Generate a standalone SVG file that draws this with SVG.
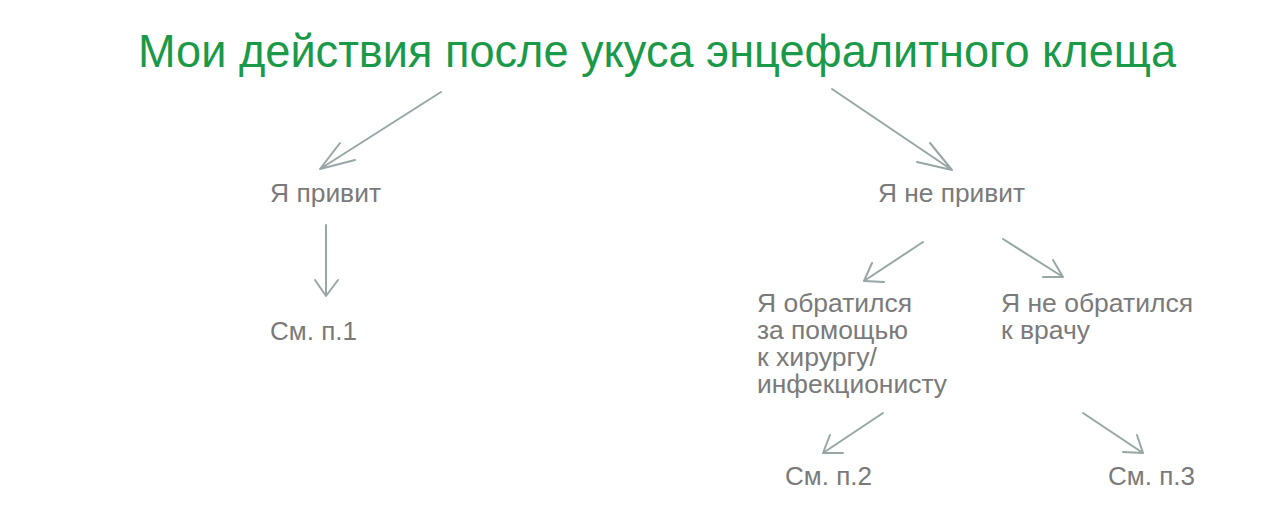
<svg xmlns="http://www.w3.org/2000/svg" width="1280" height="513" viewBox="0 0 1280 513">
<style>
.t{font-family:"Liberation Sans",Arial,sans-serif;font-size:25.5px;fill:#7a7a7a}
.title{font-family:"Liberation Sans",Arial,sans-serif;font-size:46px;fill:#1a9a48}
.c{stroke:#98a6a6;stroke-width:2;fill:none;stroke-linecap:round;stroke-linejoin:round}
</style>
<rect width="1280" height="513" fill="#ffffff"/>
<g id="title"><text class="title" x="138" y="67" textLength="1038" lengthAdjust="spacingAndGlyphs">Мои действия после укуса энцефалитного клеща</text></g>
<g id="n-vacc"><text class="t" x="270" y="202" textLength="111" lengthAdjust="spacingAndGlyphs">Я привит</text></g>
<g id="n-p1"><text class="t" x="270" y="340" textLength="87" lengthAdjust="spacingAndGlyphs">См. п.1</text></g>
<g id="n-novacc"><text class="t" x="878" y="202" textLength="147" lengthAdjust="spacingAndGlyphs">Я не привит</text></g>
<g id="n-doctor">
<text class="t" x="757" y="312" textLength="155" lengthAdjust="spacingAndGlyphs">Я обратился</text>
<text class="t" x="757" y="339" textLength="151" lengthAdjust="spacingAndGlyphs">за помощью</text>
<text class="t" x="757" y="366" textLength="120" lengthAdjust="spacingAndGlyphs">к хирургу/</text>
<text class="t" x="757" y="393" textLength="190" lengthAdjust="spacingAndGlyphs">инфекционисту</text>
</g>
<g id="n-nodoctor">
<text class="t" x="1001" y="312" textLength="192" lengthAdjust="spacingAndGlyphs">Я не обратился</text>
<text class="t" x="1001" y="339" textLength="89" lengthAdjust="spacingAndGlyphs">к врачу</text>
</g>
<g id="n-p2"><text class="t" x="785" y="485" textLength="87" lengthAdjust="spacingAndGlyphs">См. п.2</text></g>
<g id="n-p3"><text class="t" x="1108" y="485" textLength="87" lengthAdjust="spacingAndGlyphs">См. п.3</text></g>
<g id="connectors" class="c">
<path d="M441,92 L320,169 M340,143 L320,169 L355,160"/>
<path d="M832,89 L952,170 M930,143 L952,170 L917,162"/>
<path d="M326,225 L326,296 M315,280 L326,296 L338,280"/>
<path d="M923,242 L864,281 M872,263 L864,281 L884,282"/>
<path d="M1003,239 L1063,277 M1053,260 L1063,277 L1043,277"/>
<path d="M883,413 L823,453 M830,435 L823,453 L843,453"/>
<path d="M1083,413 L1143,453 M1137,435 L1143,453 L1123,452"/>
</g>
</svg>
